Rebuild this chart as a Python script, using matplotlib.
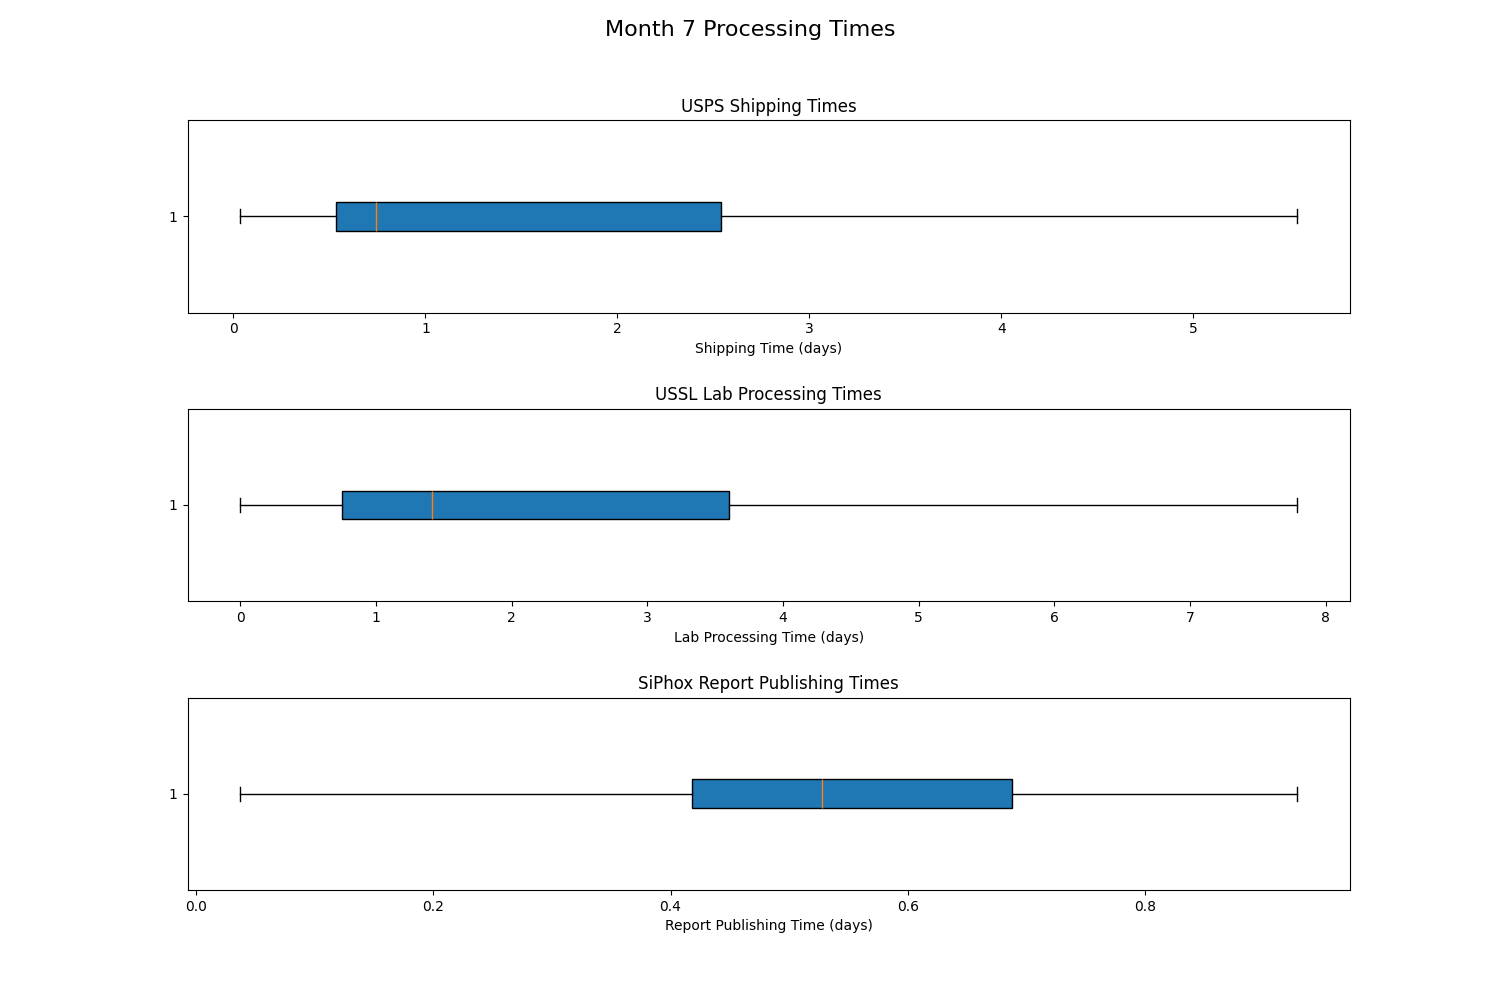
import matplotlib
matplotlib.use("Agg")
import matplotlib.pyplot as plt

# Box statistics: whisker low, Q1, median, Q3, whisker high
titles = ["USPS Shipping Times", "USSL Lab Processing Times", "SiPhox Report Publishing Times"]
xlabels = ["Shipping Time (days)", "Lab Processing Time (days)", "Report Publishing Time (days)"]
usps = [0.036, 0.536, 0.74, 2.54, 5.54]
lab = [0.0, 0.75, 1.41, 3.60, 7.79]
report = [0.0375, 0.418, 0.528, 0.688, 0.928]


def make_stats(vals):
    lo, q1, med, q3, hi = vals
    return [{"whislo": lo, "q1": q1, "med": med, "q3": q3, "whishi": hi,
             "fliers": [], "label": "1"}]


fig, axes = plt.subplots(3, 1, figsize=(15, 10), dpi=100)
fig.subplots_adjust(hspace=0.5)
fig.suptitle("Month 7 Processing Times", fontsize=16)

for ax, vals, title, xlabel in zip(axes, [usps, lab, report], titles, xlabels):
    ax.bxp(make_stats(vals), orientation="horizontal", patch_artist=True)
    ax.set_title(title)
    ax.set_xlabel(xlabel)

fig.savefig("out.png")
